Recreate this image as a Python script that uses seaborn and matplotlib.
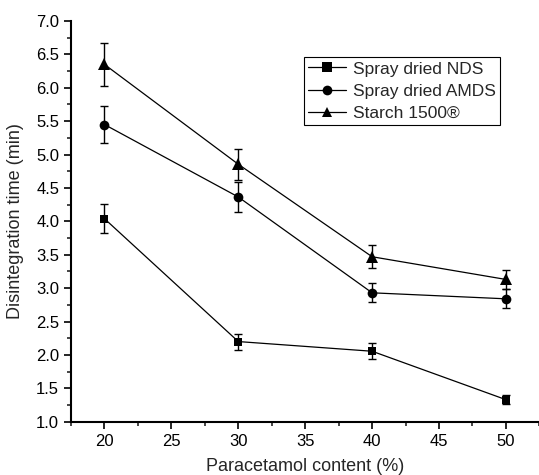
import matplotlib
matplotlib.use("Agg")
import matplotlib.pyplot as plt
import seaborn as sns
import pandas as pd
from matplotlib.ticker import MultipleLocator, FormatStrFormatter

content = [20, 30, 40, 50]
series_names = ["Spray dried NDS", "Spray dried AMDS", "Starch 1500®"]
nds = [4.04, 2.20, 2.055, 1.33]
nds_err = [0.22, 0.12, 0.12, 0.07]
amds = [5.45, 4.365, 2.93, 2.84]
amds_err = [0.27, 0.22, 0.145, 0.14]
starch = [6.35, 4.855, 3.47, 3.13]
starch_err = [0.32, 0.23, 0.17, 0.14]

sns.set_style("ticks")
plt.rcParams['font.family'] = ['Liberation Sans', 'DejaVu Sans']

rows = []
for name, vals in zip(series_names, [nds, amds, starch]):
    for x, v in zip(content, vals):
        rows.append({"x": x, "y": v, "series": name})
df = pd.DataFrame(rows)

fig = plt.figure(figsize=(5.39, 4.75), dpi=100)
ax = fig.add_axes([71/539, 53.3/475, 468.4/539, 400.7/475])

markers = {series_names[0]: "s", series_names[1]: "o", series_names[2]: "^"}
sizes = {series_names[0]: 6.0, series_names[1]: 7.0, series_names[2]: 8.0}
sns.lineplot(data=df, x="x", y="y", style="series", markers=markers, dashes=False,
             color="black", linewidth=0.9, markersize=7, markeredgewidth=0,
             ax=ax, legend=True)
for line, name in zip(ax.lines, series_names):
    line.set_markersize(sizes[name])

for vals, errs in zip([nds, amds, starch], [nds_err, amds_err, starch_err]):
    ax.errorbar(content, vals, yerr=errs, fmt="none", ecolor="black",
                elinewidth=1.0, capsize=2.7, capthick=1.0)

ax.set_xlim(17.5, 52.5)
ax.set_ylim(1.0, 7.0)
ax.xaxis.set_major_locator(MultipleLocator(5))
ax.xaxis.set_minor_locator(MultipleLocator(2.5))
ax.yaxis.set_major_locator(MultipleLocator(0.5))
ax.yaxis.set_minor_locator(MultipleLocator(0.25))
ax.yaxis.set_major_formatter(FormatStrFormatter("%.1f"))
ax.tick_params(which="major", direction="out", length=5, width=1.2, labelsize=12, colors="black")
ax.tick_params(which="minor", direction="out", length=3, width=1.2)
for s in ["top", "right"]:
    ax.spines[s].set_visible(False)
for s in ["left", "bottom"]:
    ax.spines[s].set_linewidth(1.5)
    ax.spines[s].set_color("black")

ax.set_xlabel("Paracetamol content (%)", fontsize=13, labelpad=7)
ax.set_ylabel("Disintegration time (min)", fontsize=13, labelpad=9)

leg = ax.legend(loc="upper left", bbox_to_anchor=(0.497, 0.910), borderaxespad=0,
                fontsize=12.5, frameon=True, fancybox=False, edgecolor="black",
                handlelength=2.2, handletextpad=0.4, labelspacing=0.4,
                borderpad=0.25)
leg.get_frame().set_linewidth(0.8)
leg.get_frame().set_alpha(1)

fig.savefig("out.png", dpi=100)
